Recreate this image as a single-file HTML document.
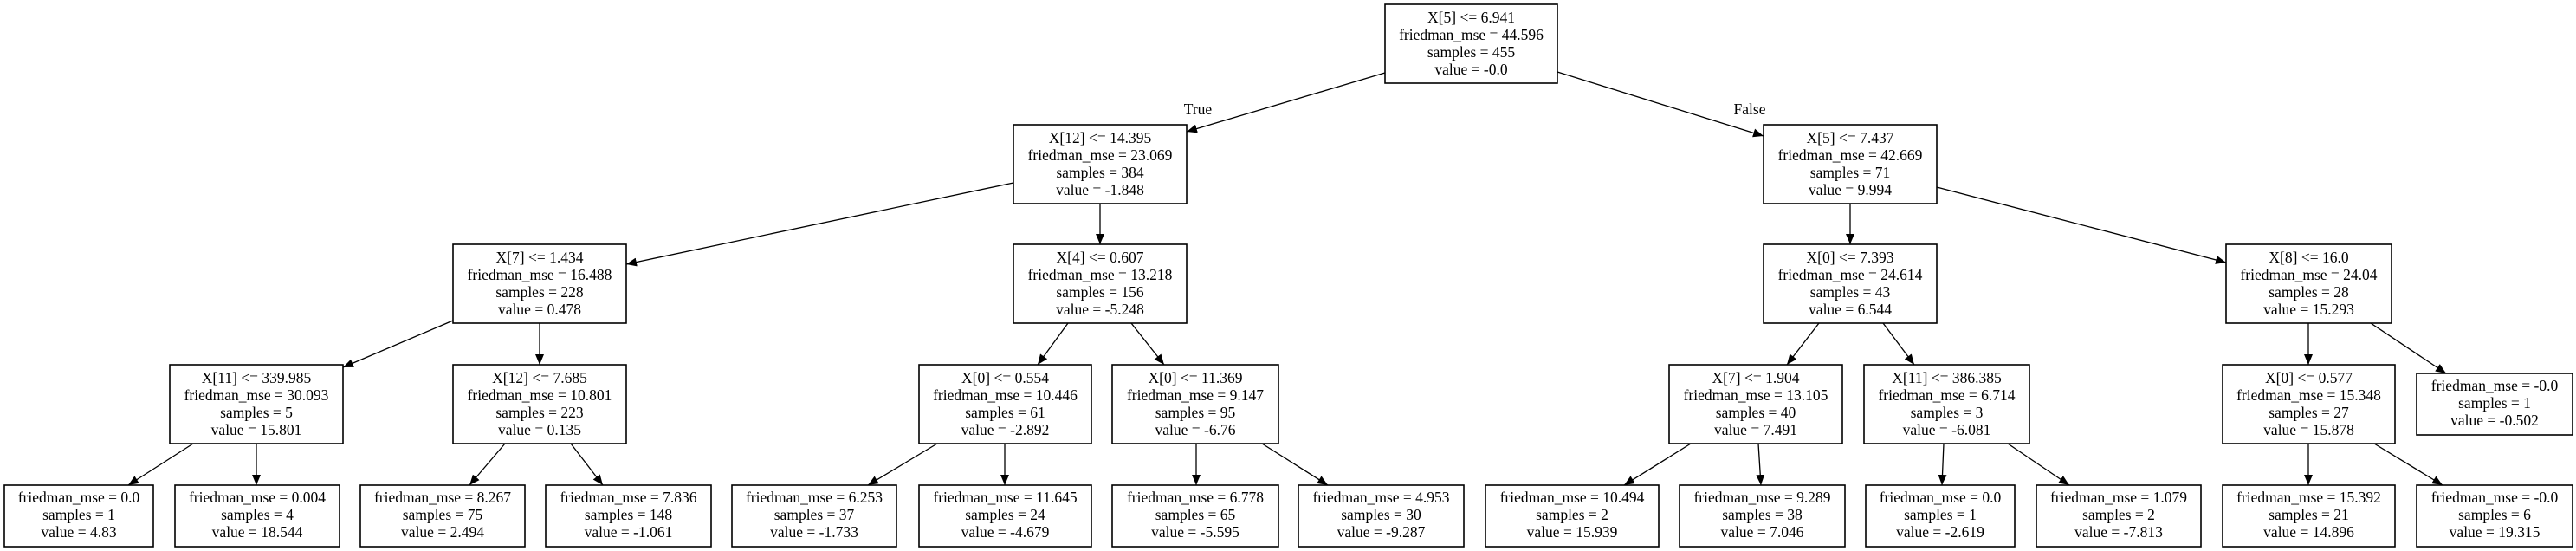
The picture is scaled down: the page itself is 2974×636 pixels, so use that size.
<!DOCTYPE html>
<html><head><meta charset="utf-8"><style>
html,body{margin:0;padding:0;background:#fff;}
svg{display:block}
text{font-family:"Liberation Serif",serif;font-size:17.5px;fill:#000;text-anchor:middle}
rect{fill:#fff;stroke:#000;stroke-width:1.6}
line{stroke:#000;stroke-width:1.3}
</style></head><body>
<svg width="2974" height="636" viewBox="0 0 2974 636" xmlns="http://www.w3.org/2000/svg">
<defs><marker id="a" markerUnits="userSpaceOnUse" markerWidth="14" markerHeight="12" refX="12" refY="5" orient="auto"><path d="M0,0 L12,5 L0,10 z" fill="#000"/></marker></defs>
<g marker-end="url(#a)">
<line x1="1599" y1="84" x2="1370" y2="152"/>
<line x1="1798" y1="83" x2="2036" y2="157"/>
<line x1="1170" y1="211" x2="723" y2="305"/>
<line x1="1270" y1="235" x2="1270" y2="282"/>
<line x1="523" y1="370" x2="396" y2="424"/>
<line x1="623" y1="373" x2="623" y2="421"/>
<line x1="223" y1="512" x2="148" y2="560"/>
<line x1="296" y1="512" x2="296" y2="560"/>
<line x1="583" y1="512" x2="542" y2="560"/>
<line x1="659" y1="512" x2="696" y2="560"/>
<line x1="1233" y1="373" x2="1198" y2="421"/>
<line x1="1306" y1="373" x2="1344" y2="421"/>
<line x1="1082" y1="512" x2="1002" y2="560"/>
<line x1="1160" y1="512" x2="1160" y2="560"/>
<line x1="1381" y1="512" x2="1381" y2="560"/>
<line x1="1457" y1="512" x2="1533" y2="560"/>
<line x1="1952" y1="512" x2="1875" y2="560"/>
<line x1="2030" y1="512" x2="2033" y2="560"/>
<line x1="2136" y1="235" x2="2136" y2="282"/>
<line x1="2236" y1="216" x2="2570" y2="303"/>
<line x1="2100" y1="373" x2="2063" y2="421"/>
<line x1="2174" y1="373" x2="2210" y2="421"/>
<line x1="2244" y1="512" x2="2242" y2="560"/>
<line x1="2318" y1="512" x2="2389" y2="560"/>
<line x1="2665" y1="373" x2="2665" y2="421"/>
<line x1="2737" y1="373" x2="2824" y2="431"/>
<line x1="2665" y1="512" x2="2665" y2="560"/>
<line x1="2741" y1="512" x2="2820" y2="560"/>
</g>
<text x="1383" y="132">True</text>
<text x="2020" y="132">False</text>

<rect x="1599" y="5" width="199" height="91"/>
<g transform="translate(1698.5,5)"><text y="21">X[5] &lt;= 6.941</text><text y="41">friedman_mse = 44.596</text><text y="61">samples = 455</text><text y="81">value = -0.0</text></g>

<rect x="1170" y="144" width="200" height="91"/>
<g transform="translate(1270,144)"><text y="21">X[12] &lt;= 14.395</text><text y="41">friedman_mse = 23.069</text><text y="61">samples = 384</text><text y="81">value = -1.848</text></g>

<rect x="2036" y="144" width="200" height="91"/>
<g transform="translate(2136,144)"><text y="21">X[5] &lt;= 7.437</text><text y="41">friedman_mse = 42.669</text><text y="61">samples = 71</text><text y="81">value = 9.994</text></g>

<rect x="523" y="282" width="200" height="91"/>
<g transform="translate(623,282)"><text y="21">X[7] &lt;= 1.434</text><text y="41">friedman_mse = 16.488</text><text y="61">samples = 228</text><text y="81">value = 0.478</text></g>

<rect x="1170" y="282" width="200" height="91"/>
<g transform="translate(1270,282)"><text y="21">X[4] &lt;= 0.607</text><text y="41">friedman_mse = 13.218</text><text y="61">samples = 156</text><text y="81">value = -5.248</text></g>

<rect x="2036" y="282" width="200" height="91"/>
<g transform="translate(2136,282)"><text y="21">X[0] &lt;= 7.393</text><text y="41">friedman_mse = 24.614</text><text y="61">samples = 43</text><text y="81">value = 6.544</text></g>

<rect x="2570" y="282" width="191" height="91"/>
<g transform="translate(2665.5,282)"><text y="21">X[8] &lt;= 16.0</text><text y="41">friedman_mse = 24.04</text><text y="61">samples = 28</text><text y="81">value = 15.293</text></g>

<rect x="196" y="421" width="200" height="91"/>
<g transform="translate(296,421)"><text y="21">X[11] &lt;= 339.985</text><text y="41">friedman_mse = 30.093</text><text y="61">samples = 5</text><text y="81">value = 15.801</text></g>

<rect x="523" y="421" width="200" height="91"/>
<g transform="translate(623,421)"><text y="21">X[12] &lt;= 7.685</text><text y="41">friedman_mse = 10.801</text><text y="61">samples = 223</text><text y="81">value = 0.135</text></g>

<rect x="1061" y="421" width="199" height="91"/>
<g transform="translate(1160.5,421)"><text y="21">X[0] &lt;= 0.554</text><text y="41">friedman_mse = 10.446</text><text y="61">samples = 61</text><text y="81">value = -2.892</text></g>

<rect x="1284" y="421" width="192" height="91"/>
<g transform="translate(1380,421)"><text y="21">X[0] &lt;= 11.369</text><text y="41">friedman_mse = 9.147</text><text y="61">samples = 95</text><text y="81">value = -6.76</text></g>

<rect x="1927" y="421" width="200" height="91"/>
<g transform="translate(2027,421)"><text y="21">X[7] &lt;= 1.904</text><text y="41">friedman_mse = 13.105</text><text y="61">samples = 40</text><text y="81">value = 7.491</text></g>

<rect x="2152" y="421" width="191" height="91"/>
<g transform="translate(2247.5,421)"><text y="21">X[11] &lt;= 386.385</text><text y="41">friedman_mse = 6.714</text><text y="61">samples = 3</text><text y="81">value = -6.081</text></g>

<rect x="2566" y="421" width="199" height="91"/>
<g transform="translate(2665.5,421)"><text y="21">X[0] &lt;= 0.577</text><text y="41">friedman_mse = 15.348</text><text y="61">samples = 27</text><text y="81">value = 15.878</text></g>

<rect x="2790" y="431" width="180" height="71"/>
<g transform="translate(2880,431)"><text y="20">friedman_mse = -0.0</text><text y="40">samples = 1</text><text y="60">value = -0.502</text></g>

<rect x="5" y="560" width="172" height="71"/>
<g transform="translate(91,560)"><text y="20">friedman_mse = 0.0</text><text y="40">samples = 1</text><text y="60">value = 4.83</text></g>
<rect x="202" y="560" width="190" height="71"/>
<g transform="translate(297,560)"><text y="20">friedman_mse = 0.004</text><text y="40">samples = 4</text><text y="60">value = 18.544</text></g>
<rect x="416" y="560" width="190" height="71"/>
<g transform="translate(511,560)"><text y="20">friedman_mse = 8.267</text><text y="40">samples = 75</text><text y="60">value = 2.494</text></g>
<rect x="630" y="560" width="191" height="71"/>
<g transform="translate(725.5,560)"><text y="20">friedman_mse = 7.836</text><text y="40">samples = 148</text><text y="60">value = -1.061</text></g>
<rect x="845" y="560" width="190" height="71"/>
<g transform="translate(940,560)"><text y="20">friedman_mse = 6.253</text><text y="40">samples = 37</text><text y="60">value = -1.733</text></g>
<rect x="1061" y="560" width="199" height="71"/>
<g transform="translate(1160.5,560)"><text y="20">friedman_mse = 11.645</text><text y="40">samples = 24</text><text y="60">value = -4.679</text></g>
<rect x="1284" y="560" width="192" height="71"/>
<g transform="translate(1380,560)"><text y="20">friedman_mse = 6.778</text><text y="40">samples = 65</text><text y="60">value = -5.595</text></g>
<rect x="1499" y="560" width="191" height="71"/>
<g transform="translate(1594.5,560)"><text y="20">friedman_mse = 4.953</text><text y="40">samples = 30</text><text y="60">value = -9.287</text></g>
<rect x="1715" y="560" width="200" height="71"/>
<g transform="translate(1815,560)"><text y="20">friedman_mse = 10.494</text><text y="40">samples = 2</text><text y="60">value = 15.939</text></g>
<rect x="1939" y="560" width="191" height="71"/>
<g transform="translate(2034.5,560)"><text y="20">friedman_mse = 9.289</text><text y="40">samples = 38</text><text y="60">value = 7.046</text></g>
<rect x="2154" y="560" width="172" height="71"/>
<g transform="translate(2240,560)"><text y="20">friedman_mse = 0.0</text><text y="40">samples = 1</text><text y="60">value = -2.619</text></g>
<rect x="2351" y="560" width="190" height="71"/>
<g transform="translate(2446,560)"><text y="20">friedman_mse = 1.079</text><text y="40">samples = 2</text><text y="60">value = -7.813</text></g>
<rect x="2566" y="560" width="199" height="71"/>
<g transform="translate(2665.5,560)"><text y="20">friedman_mse = 15.392</text><text y="40">samples = 21</text><text y="60">value = 14.896</text></g>
<rect x="2790" y="560" width="180" height="71"/>
<g transform="translate(2880,560)"><text y="20">friedman_mse = -0.0</text><text y="40">samples = 6</text><text y="60">value = 19.315</text></g>
</svg>
</body></html>
